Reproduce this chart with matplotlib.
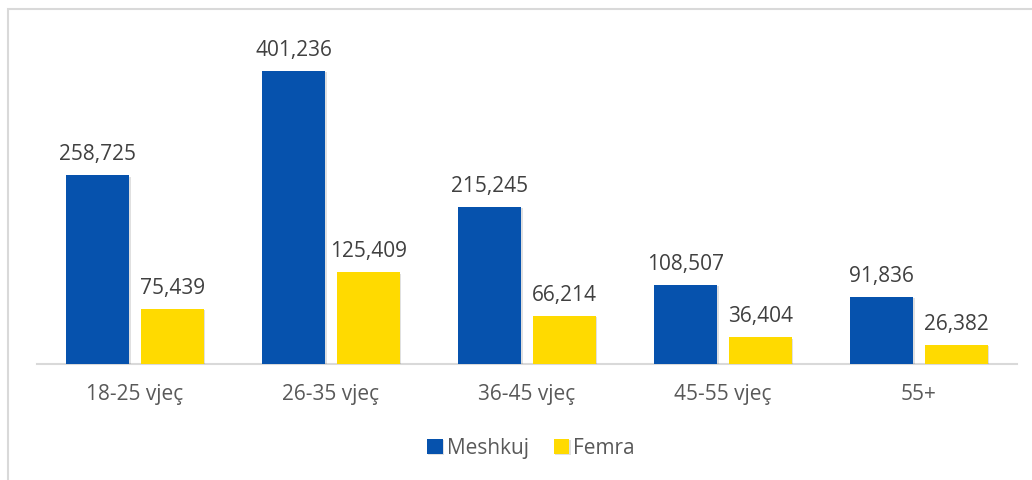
import numpy as np
import matplotlib.pyplot as plt
import matplotlib.patheffects as pe
from matplotlib.patches import Rectangle

plt.rcParams['font.family'] = ['Open Sans', 'DejaVu Sans']

categories = ['18-25 vjeç', '26-35 vjeç', '36-45 vjeç', '45-55 vjeç', '55+']
meshkuj = [258725, 401236, 215245, 108507, 91836]
femra = [75439, 125409, 66214, 36404, 26382]

blue = '#0652AD'
yellow = '#FFDA00'

fig = plt.figure(figsize=(10.32, 4.81), dpi=100)
# light border round the chart area
fig.patches.append(Rectangle((8 / 1032, -0.01), 1.05, 1 - 10 / 481 + 0.01,
                             transform=fig.transFigure, fill=False,
                             edgecolor='#D9D9D9', linewidth=1.5))

ax = fig.add_axes([37 / 1032, 116 / 481, 980 / 1032, 335 / 481])
x = np.arange(len(categories))
w = 0.32
shadow = [pe.SimplePatchShadow(offset=(1, -1), shadow_rgbFace='#000000', alpha=0.12), pe.Normal()]

b1 = ax.bar(x - 0.19, meshkuj, w, color=blue, label='Meshkuj', path_effects=shadow, zorder=3)
b2 = ax.bar(x + 0.19, femra, w, color=yellow, label='Femra', path_effects=shadow, zorder=3)

for bars, vals in ((b1, meshkuj), (b2, femra)):
    for rect, v in zip(bars, vals):
        ax.annotate('{:,}'.format(v), (rect.get_x() + rect.get_width() / 2, v),
                    xytext=(0, 8), textcoords='offset points', ha='center', va='bottom',
                    fontsize=15, color='#404040')

ax.set_xlim(-0.5, 4.5)
ax.set_ylim(0, 458900)
ax.set_yticks([])
for s in ['top', 'right', 'left']:
    ax.spines[s].set_visible(False)
ax.spines['bottom'].set_color('#D9D9D9')
ax.spines['bottom'].set_linewidth(1.5)
ax.set_xticks(x)
ax.set_xticklabels(categories, fontsize=15, color='#595959')
ax.tick_params(axis='x', length=0, pad=14)

fig.legend(loc='center', bbox_to_anchor=(531 / 1032, 1 - 449 / 481), ncol=2, frameon=False,
           fontsize=15, handlelength=0.75, handleheight=0.75, handletextpad=0.2,
           columnspacing=1.2, labelcolor='#595959')

fig.savefig('out.png', dpi=100)
